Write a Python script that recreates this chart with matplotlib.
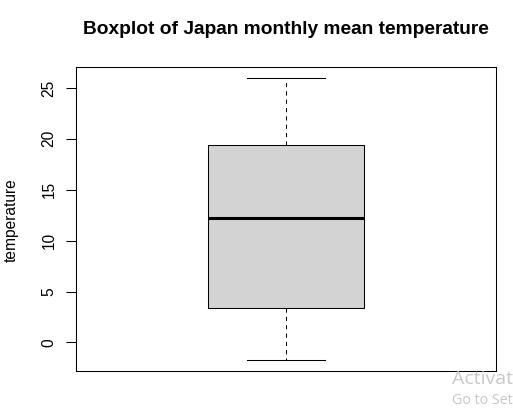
import matplotlib
matplotlib.use("Agg")
import matplotlib.pyplot as plt

# Five-number summary (°C)
stat_names = ["whislo", "q1", "med", "q3", "whishi"]
stat_values = [-1.7, 3.35, 12.2, 19.35, 25.95]
y_ticks = [0, 5, 10, 15, 20, 25]
title = "Boxplot of Japan monthly mean temperature"
ylabel = "temperature"

plt.rcParams["font.family"] = ["Liberation Sans", "DejaVu Sans"]

fig = plt.figure(figsize=(5.13, 4.11), dpi=100)
W, H = 513, 411
ax = fig.add_axes([76 / W, 1 - 371 / H, (496 - 76) / W, (371 - 67) / H])

lw = 0.75
stats = dict(zip(stat_names, stat_values))
stats["fliers"] = []
ax.bxp([stats], positions=[1], widths=0.4, patch_artist=True, showfliers=False,
       boxprops=dict(facecolor="#D3D3D3", edgecolor="black", linewidth=lw),
       medianprops=dict(color="black", linewidth=2.2, solid_capstyle="butt"),
       whiskerprops=dict(color="black", linewidth=lw, linestyle=(0, (4, 4))),
       capprops=dict(color="black", linewidth=lw),
       capwidths=0.2)

lo, hi = min(stat_values), max(stat_values)
pad = (hi - lo) * 0.04
ax.set_ylim(lo - pad, hi + pad)
ax.set_xlim(0.46, 1.54)
ax.set_xticks([])
ax.set_yticks(y_ticks)
ax.set_yticklabels([str(t) for t in y_ticks], rotation=90, va="center", fontsize=11.2)
ax.tick_params(axis="y", length=7, width=lw, pad=7)
for s in ax.spines.values():
    s.set_linewidth(lw)

fig.text(11 / W, 1 - 220 / H, ylabel, rotation=90, ha="center", va="center",
         fontsize=11.2)
fig.text(286 / W, 1 - 30 / H, title, ha="center", va="center",
         fontsize=13.8, fontweight="bold")

# Watermark present in the reference screenshot
fig.text(452 / W, 1 - 379 / H, "Activat", fontsize=14, color="#C8C8C8",
         ha="left", va="center", family=["Open Sans", "DejaVu Sans"])
fig.text(452 / W, 1 - 400 / H, "Go to Set", fontsize=10.3, color="#C8C8C8",
         ha="left", va="center", family=["Open Sans", "DejaVu Sans"])

fig.savefig("out.png", dpi=100)
